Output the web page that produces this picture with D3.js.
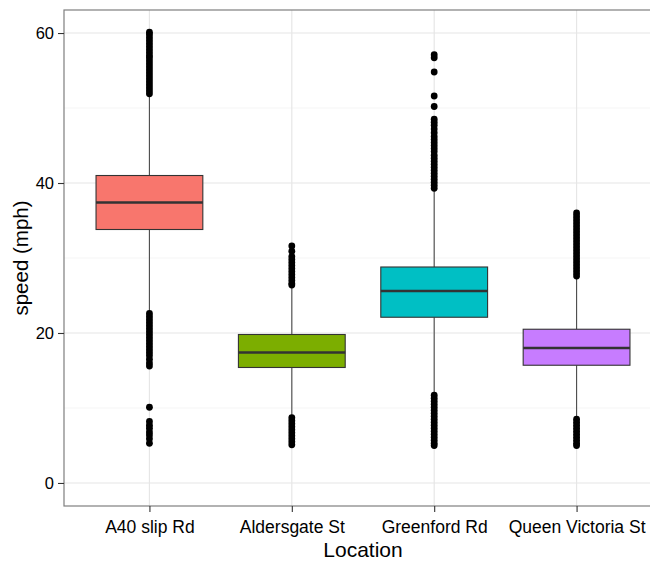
<!DOCTYPE html>
<html>
<head>
<meta charset="utf-8">
<script src="https://cdn.jsdelivr.net/npm/d3@7"></script>
<style>
  html, body { margin: 0; padding: 0; background: #fff; }
  svg { display: block; }
  text { font-family: "Liberation Sans", Arial, sans-serif; }
</style>
</head>
<body>
<svg id="chart" width="650" height="561"></svg>
<script>
// ---- data ----
const categories = ["A40 slip Rd", "Aldersgate St", "Greenford Rd", "Queen Victoria St"];
const colors = ["#F8766D", "#7CAE00", "#00BFC4", "#C77CFF"];
const q1 = [33.8, 15.4, 22.1, 15.7];
const medians = [37.4, 17.4, 25.6, 18.0];
const q3 = [41.0, 19.8, 28.8, 20.5];
const whiskerLow = [22.9, 8.9, 12.0, 8.7];
const whiskerHigh = [51.6, 26.2, 39.0, 27.3];
const outliersA40 = [60.1, 59.8, 59.4, 59.0, 58.6, 58.2, 57.8, 57.4, 57.0, 56.7, 56.3, 55.9, 55.5, 55.1, 54.7, 54.3, 53.9, 53.5, 53.1, 52.7, 52.3, 51.9,
  22.6, 22.2, 21.8, 21.4, 21.0, 20.6, 20.2, 19.8, 19.4, 19.0, 18.6, 18.2, 17.8, 17.4, 17.0, 16.5, 16.0, 15.6,
  10.1, 8.2, 7.7, 7.3, 6.8, 6.4, 5.9, 5.3];
const outliersAldersgate = [31.6, 30.9, 30.2, 29.8, 29.4, 29.0, 28.6, 28.2, 27.8, 27.4, 27.0, 26.6, 26.4,
  8.7, 8.3, 7.9, 7.5, 7.1, 6.7, 6.3, 5.9, 5.5, 5.1];
const outliersGreenford = [57.1, 56.7, 54.8, 51.6, 50.2, 48.5, 48.1, 47.7, 47.2, 46.7, 46.2, 45.8, 45.4, 45.0, 44.6, 44.2, 43.7, 43.3, 42.9, 42.5, 42.1, 41.7, 41.3, 40.9, 40.5, 40.1, 39.7, 39.3,
  11.7, 11.3, 10.9, 10.5, 10.1, 9.7, 9.3, 8.9, 8.5, 8.1, 7.7, 7.3, 6.9, 6.5, 6.1, 5.7, 5.3, 5.0];
const outliersQV = [36.0, 35.6, 35.2, 34.8, 34.4, 34.0, 33.6, 33.2, 32.8, 32.4, 32.0, 31.6, 31.2, 30.8, 30.4, 30.0, 29.6, 29.2, 28.8, 28.4, 28.0, 27.6,
  8.5, 8.1, 7.7, 7.3, 6.9, 6.5, 6.1, 5.7, 5.3, 5.0];
const outliers = [outliersA40, outliersAldersgate, outliersGreenford, outliersQV];
const yTicks = [0, 20, 40, 60];
const yMinor = [10, 30, 50];
const xTitle = "Location";
const yTitle = "speed (mph)";

// ---- layout ----
const svg = d3.select("#chart");
const panel = { left: 64, right: 662, top: 10, bottom: 506 };

const x = d3.scalePoint().domain(categories).range([panel.left, panel.right]).padding(0.6);
const y = d3.scaleLinear().domain([-3.07, 63.07]).range([panel.bottom, panel.top]);
const boxW = x.step() * 0.75;

const g = svg.append("g");

// grid
g.selectAll("line.minor").data(yMinor).enter().append("line")
  .attr("x1", panel.left).attr("x2", panel.right)
  .attr("y1", d => y(d)).attr("y2", d => y(d))
  .attr("stroke", "#f5f5f5").attr("stroke-width", 1);
g.selectAll("line.major").data(yTicks).enter().append("line")
  .attr("x1", panel.left).attr("x2", panel.right)
  .attr("y1", d => y(d)).attr("y2", d => y(d))
  .attr("stroke", "#e6e6e6").attr("stroke-width", 1.2);
g.selectAll("line.vgrid").data(categories).enter().append("line")
  .attr("x1", d => x(d)).attr("x2", d => x(d))
  .attr("y1", panel.top).attr("y2", panel.bottom)
  .attr("stroke", "#e6e6e6").attr("stroke-width", 1.2);

// boxes
const boxes = g.selectAll("g.box").data(categories).enter().append("g");
boxes.append("line")
  .attr("x1", d => x(d)).attr("x2", d => x(d))
  .attr("y1", (d, i) => y(whiskerHigh[i])).attr("y2", (d, i) => y(q3[i]))
  .attr("stroke", "#4d4d4d").attr("stroke-width", 1.1);
boxes.append("line")
  .attr("x1", d => x(d)).attr("x2", d => x(d))
  .attr("y1", (d, i) => y(q1[i])).attr("y2", (d, i) => y(whiskerLow[i]))
  .attr("stroke", "#4d4d4d").attr("stroke-width", 1.1);
boxes.append("rect")
  .attr("x", d => x(d) - boxW / 2).attr("width", boxW)
  .attr("y", (d, i) => y(q3[i])).attr("height", (d, i) => y(q1[i]) - y(q3[i]))
  .attr("fill", (d, i) => colors[i])
  .attr("stroke", "#333333").attr("stroke-width", 1.1);
boxes.append("line")
  .attr("x1", d => x(d) - boxW / 2).attr("x2", d => x(d) + boxW / 2)
  .attr("y1", (d, i) => y(medians[i])).attr("y2", (d, i) => y(medians[i]))
  .attr("stroke", "#333333").attr("stroke-width", 2.4);
boxes.each(function (d, i) {
  d3.select(this).selectAll("circle").data(outliers[i]).enter().append("circle")
    .attr("cx", x(d)).attr("cy", v => y(v)).attr("r", 3.4).attr("fill", "#000");
});

// panel border
g.append("rect")
  .attr("x", panel.left).attr("y", panel.top)
  .attr("width", panel.right - panel.left).attr("height", panel.bottom - panel.top)
  .attr("fill", "none").attr("stroke", "#7f7f7f").attr("stroke-width", 1.2);

// axes
const yAxis = svg.append("g").attr("transform", `translate(${panel.left},0)`)
  .call(d3.axisLeft(y).tickValues(yTicks).tickSize(6).tickPadding(4).tickFormat(d3.format("d")));
yAxis.select(".domain").remove();
yAxis.selectAll(".tick line").attr("stroke", "#333").attr("stroke-width", 1.1);
yAxis.selectAll(".tick text").attr("font-size", 16.5).attr("fill", "#000")
  .attr("font-family", "Liberation Sans, Arial, sans-serif");

const xAxis = svg.append("g").attr("transform", `translate(0,${panel.bottom})`)
  .call(d3.axisBottom(x).tickSize(6).tickPadding(9));
xAxis.select(".domain").remove();
xAxis.selectAll(".tick line").attr("stroke", "#333").attr("stroke-width", 1.1);
xAxis.selectAll(".tick text").attr("font-size", 17.5).attr("fill", "#000")
  .attr("font-family", "Liberation Sans, Arial, sans-serif");

// titles
svg.append("text").attr("x", (panel.left + panel.right) / 2).attr("y", 557)
  .attr("text-anchor", "middle").attr("font-size", 21).attr("fill", "#000").text(xTitle);
svg.append("text").attr("transform", `translate(28,${(panel.top + panel.bottom) / 2}) rotate(-90)`)
  .attr("text-anchor", "middle").attr("font-size", 20.5).attr("fill", "#000").text(yTitle);
</script>
</body>
</html>
